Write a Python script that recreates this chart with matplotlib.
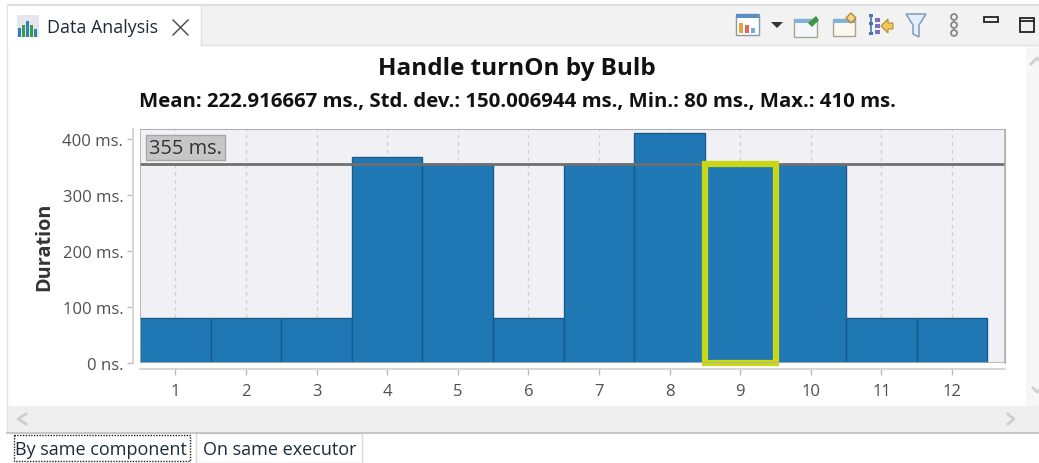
import matplotlib
matplotlib.use("Agg")
import matplotlib.pyplot as plt
from matplotlib.patches import Rectangle, Polygon

W, H = 1039, 464

positions = [1, 2, 3, 4, 5, 6, 7, 8, 9, 10, 11, 12]
durations = [80, 80, 80, 367, 355, 80, 355, 410, 355, 355, 80, 80]
selected = 9
threshold = 355
y_ticks = [0, 100, 200, 300, 400]
y_labels = ["0 ns.", "100 ms.", "200 ms.", "300 ms.", "400 ms."]
title = "Handle turnOn by Bulb"
subtitle = "Mean: 222.916667 ms., Std. dev.: 150.006944 ms., Min.: 80 ms., Max.: 410 ms."

plt.rcParams["font.family"] = ["Open Sans", "DejaVu Sans"]

fig = plt.figure(figsize=(W / 100, H / 100), dpi=100, facecolor="white")

# window chrome, in pixel coords
ui = fig.add_axes([0, 0, 1, 1], zorder=0)
ui.set_xlim(0, W)
ui.set_ylim(H, 0)
ui.axis("off")


def box(x, y, w, h, fc="none", ec="none", lw=1.0, **kw):
    ui.add_patch(Rectangle((x, y), w, h, facecolor=fc, edgecolor=ec, linewidth=lw, **kw))


box(7, 5, 1032, 428, fc="white", ec="#e4e4e4")
box(8, 6, 1031, 40, fc="#f2f2f2")
ui.plot([8, 1039], [5.5, 5.5], color="#dcdcdc", lw=1.2)
ui.plot([201, 1039], [45.5, 45.5], color="#e2e2e2", lw=1)
box(8, 6, 193, 40, fc="white")
ui.plot([201, 201], [6, 46], color="#e0e0e0", lw=1)
box(1026, 46, 13, 361, fc="#f7f7f7")
box(8, 407, 1031, 27, fc="#efefef")
ui.plot([7, 1039], [433.5, 433.5], color="#bdbdbd", lw=1.2)

# tab icon
box(17, 16, 22, 22, fc="#e4e6ec")
for bx, bh, col in [(18, 9, "#2f7ebd"), (22, 12, "#3f9b3f"), (26, 16, "#2f7ebd"), (30, 12, "#3f9b3f"), (34, 8, "#2f7ebd")]:
    box(bx, 38 - bh, 3.4, bh, fc=col)
ui.text(47, 28, "Data Analysis", fontsize=12.9, color="#1c2b3a", ha="left", va="center")
ui.plot([173, 188], [21, 36], color="#444444", lw=1)
ui.plot([173, 188], [36, 21], color="#444444", lw=1)

# toolbar icons
box(736, 15, 23, 21, fc="white", ec="#8a99a8")
box(736, 15, 23, 4, fc="#5b8fc4")
box(739, 24, 4, 10, fc="#e8a33c")
box(745, 26, 4, 8, fc="#d9695f")
box(751, 29, 4, 5, fc="#7fa7d0")
ui.add_patch(Polygon([[771, 23], [783, 23], [777, 29]], facecolor="#333333"))
box(794, 20, 23, 18, fc="#f4f8fc", ec="#a8a68c")
box(794, 20, 23, 4, fc="#7fb2dc")
ui.add_patch(Polygon([[808, 24], [816, 17], [819, 21], [812, 28]], facecolor="#3f9448"))
box(833, 20, 22, 17, fc="#fbf8ee", ec="#a8a68c")
box(833, 20, 22, 4, fc="#7fb2dc")
ui.add_patch(Polygon([[851, 14], [856, 19], [851, 24], [846, 19]], facecolor="#f3d68c", edgecolor="#b38a36"))
ui.plot([871, 871], [16, 35], color="#4a74b0", lw=1.2)
for iy in [16, 24, 34]:
    box(869, iy - 1.5, 4, 3, fc="#4a74b0")
for iy in [21, 27, 33]:
    box(875, iy - 2, 5, 4, fc="#7d6fc4")
ui.add_patch(Polygon([[881, 27], [888, 20], [888, 24], [893, 24], [893, 30], [888, 30], [888, 34]], facecolor="#f0c860", edgecolor="#b58a30", linewidth=0.8))
ui.add_patch(Polygon([[906, 15], [926, 15], [919, 26], [919, 38], [913, 35], [913, 26]], facecolor="#e4eef8", edgecolor="#8aa2bc", linewidth=1.2))
for iy in [18, 26, 34]:
    ui.add_patch(plt.Circle((954, iy), 3, facecolor="none", edgecolor="#888888", linewidth=1.3))
box(984, 18, 14, 5, ec="#222222", lw=1.3)
box(1020, 19, 14, 14, ec="#222222", lw=1.3)
ui.plot([1020, 1034], [22, 22], color="#222222", lw=1.3)

# scroll arrows
ui.plot([1031, 1037, 1043], [65, 59, 65], color="#cfcfcf", lw=2)
ui.plot([1033, 1037, 1041], [389, 393, 389], color="#cfcfcf", lw=2)
ui.plot([26, 18, 26], [415, 420, 425], color="#cfcfcf", lw=2)
ui.plot([1008, 1014, 1008], [415, 420, 425], color="#cfcfcf", lw=2)

# bottom tabs
box(8, 434, 188, 30, fc="white")
box(14, 436, 176, 26, ec="#222222", lw=1, linestyle=(0, (1, 1)))
ui.text(15, 450, "By same component", fontsize=12.95, color="#1c2b3a", ha="left", va="center")
box(196, 434, 166, 30, fc="white", ec="#d8d8d8")
ui.text(203, 450, "On same executor", fontsize=12.95, color="#1c2b3a", ha="left", va="center")

# chart
ax = fig.add_axes([140 / W, 1 - 363.5 / H, 865 / W, 234 / H], zorder=1, facecolor="#f0f0f5")
ax.set_xlim(0.5, 12.75)
ax.set_ylim(0, 418)
ax.xaxis.grid(True, color="#cfcfcf", linestyle=(0, (3, 3)), linewidth=0.9)
ax.set_axisbelow(True)

ax.bar(positions, durations, width=1.0, color="#1f77b4", edgecolor="#195c8c", linewidth=1.0, zorder=2)
ax.axhline(threshold, color="#6f6f6f", linewidth=2, zorder=3)
ax.bar([selected], [durations[selected - 1]], width=1.0, color="#1f77b4", edgecolor="#c8d816", linewidth=4.5, zorder=4, clip_on=False)

ax.set_xticks(positions)
ax.set_yticks(y_ticks)
ax.set_yticklabels(y_labels)
ax.tick_params(axis="both", colors="#bbbbbb", length=4, width=1, labelcolor="#4f4f4f", labelsize=12)
ax.tick_params(axis="x", pad=6)
ax.tick_params(axis="y", pad=3)
for name in ["left", "bottom"]:
    ax.spines[name].set_position(("outward", 5))
    ax.spines[name].set_color("#d0d0d0")
    ax.spines[name].set_linewidth(1.2)
for name in ["top", "right"]:
    ax.spines[name].set_color("#b0b0b0")
ax.add_patch(Rectangle((0, 0), 1, 1, transform=ax.transAxes, facecolor="none", edgecolor="#b0b0b0", linewidth=1.2, zorder=5))
ax.set_ylabel("Duration", fontsize=14.3, fontweight="bold", color="#333333", labelpad=6)

ax.annotate("355 ms.", xy=(0, 1), xycoords="axes fraction", xytext=(9, -9), textcoords="offset pixels",
            fontsize=14.4, color="#333333", ha="left", va="top", zorder=6,
            bbox=dict(boxstyle="square,pad=0.14", facecolor="#c6c6c6", edgecolor="#a8a8a8"))

fig.text(517 / W, 1 - 69 / H, title, fontsize=17.5, fontweight="bold", color="#111111", ha="center", va="center")
fig.text(517 / W, 1 - 102 / H, subtitle, fontsize=14.7, fontweight="bold", color="#111111", ha="center", va="center")

fig.savefig("out.png", dpi=100)
